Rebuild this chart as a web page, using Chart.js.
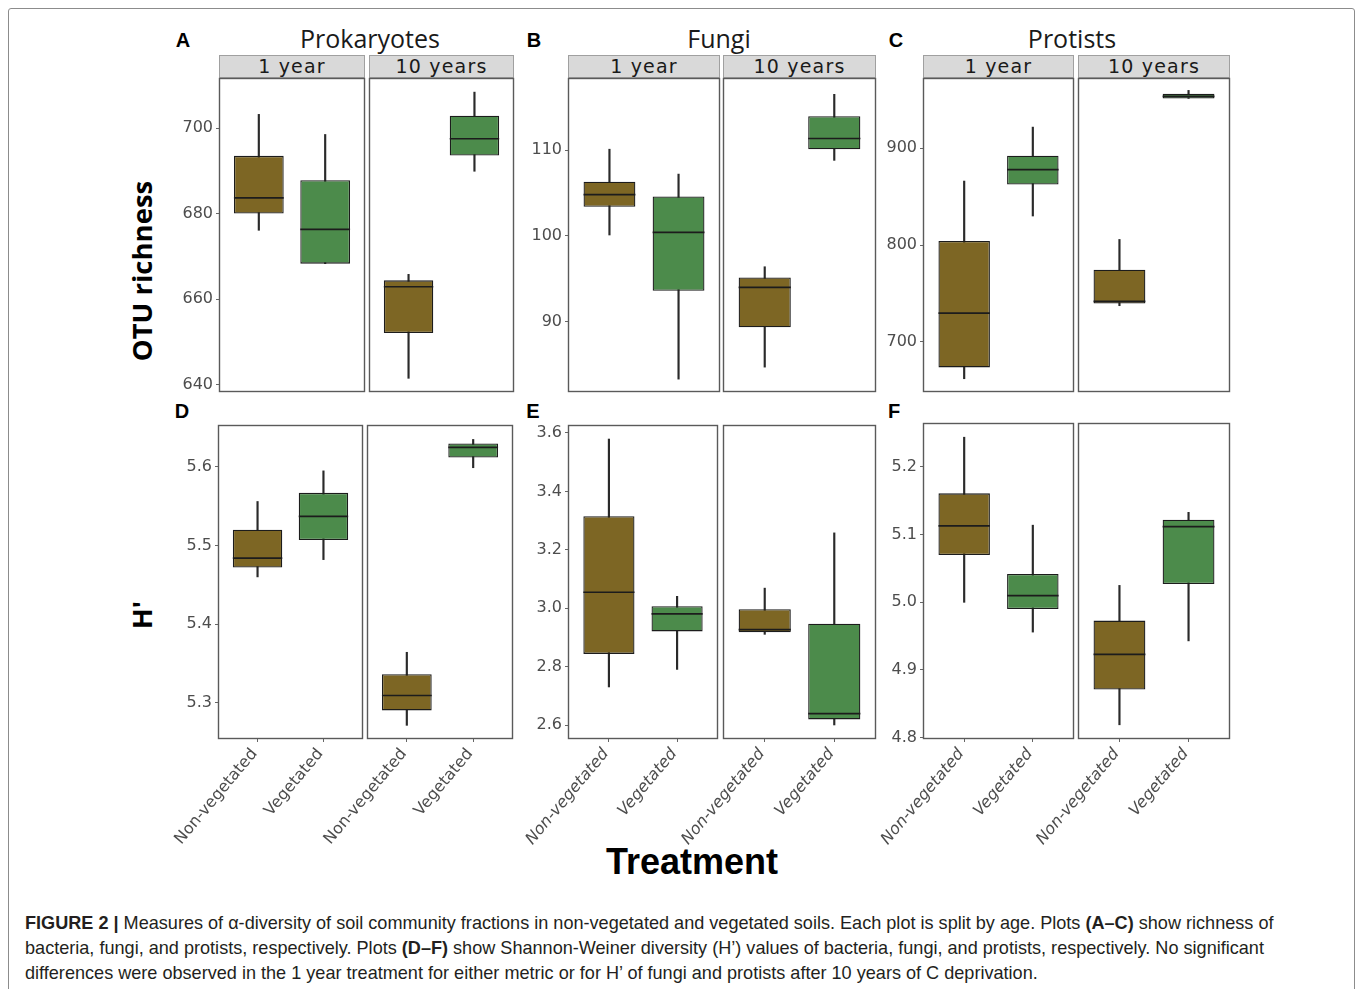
<!DOCTYPE html>
<html>
<head>
<meta charset="utf-8">
<script src="https://cdn.jsdelivr.net/npm/chart.js@4.4.1/dist/chart.umd.min.js"></script>
<style>
  html, body { margin: 0; padding: 0; background: #fff; }
  body { width: 1360px; height: 989px; position: relative; overflow: hidden; }
  .frame { position: absolute; left: 8px; top: 8px; width: 1347px; height: 1010px;
           border: 1px solid #8c8c8c; border-radius: 3px; box-sizing: border-box; }
  canvas { position: absolute; }
  .c { position: absolute; transform: translate(-50%, -50%); white-space: nowrap; }
  .title { font-family: "Open Sans", sans-serif; font-size: 25px; color: #1a1a1a; }
  .letter { font-family: "Liberation Sans", Arial, sans-serif; font-weight: bold; font-size: 20px; color: #000; }
  .strip { position: absolute; height: 23px; box-sizing: border-box; background: #d9d9d9;
           border: 1px solid #a0a0a0; font-family: "DejaVu Sans", sans-serif; font-size: 19px;
           letter-spacing: 1.2px; color: #1a1a1a; text-align: center; line-height: 21px; }
  .ylab { font-family: "Open Sans", sans-serif; font-weight: bold; font-size: 27.5px; color: #000;
          transform: translate(-50%, -50%) rotate(-90deg); }
  .xlab { font-family: "Liberation Sans", Arial, sans-serif; font-weight: bold; font-size: 36px; color: #000; }
  .cap { position: absolute; left: 25px; font-family: "Liberation Sans Narrow", "Liberation Sans", Arial, sans-serif;
         font-size: 18.1px; color: #231f20; white-space: nowrap; }
</style>
</head>
<body>
<div class="frame"></div>

<div class="c letter" style="left:183px;top:40px">A</div>
<div class="c letter" style="left:534px;top:40px">B</div>
<div class="c letter" style="left:896px;top:40px">C</div>
<div class="c letter" style="left:182px;top:411px">D</div>
<div class="c letter" style="left:533px;top:411px">E</div>
<div class="c letter" style="left:894px;top:411px">F</div>

<div class="c title" style="left:370px;top:38px">Prokaryotes</div>
<div class="c title" style="left:719px;top:38px">Fungi</div>
<div class="c title" style="left:1072px;top:38px">Protists</div>

<div class="c ylab" style="left:141px;top:271px">OTU richness</div>
<div class="c ylab" style="left:141px;top:615px">H'</div>
<div class="c xlab" style="left:692px;top:862px">Treatment</div>

<div class="cap" style="top:913px"><b>FIGURE 2 |</b> Measures of α-diversity of soil community fractions in non-vegetated and vegetated soils. Each plot is split by age. Plots <b>(A–C)</b> show richness of</div>
<div class="cap" style="top:938px">bacteria, fungi, and protists, respectively. Plots <b>(D–F)</b> show Shannon-Weiner diversity (H’) values of bacteria, fungi, and protists, respectively. No significant</div>
<div class="cap" style="top:963px">differences were observed in the 1 year treatment for either metric or for H’ of fungi and protists after 10 years of C deprivation.</div>

<script>
// Treatments on the x axis and the two soil ages used as facets
const treatments = ['Non-vegetated', 'Vegetated'];
const ages = ['1 year', '10 years'];

// Five-number summaries per treatment: [min, Q1, median, Q3, max]
// OTU richness
const prokOtu1y  = [[676.1, 680.0, 683.7, 693.5, 703.2], [668.3, 668.3, 676.3, 687.8, 698.5]];
const prokOtu10y = [[641.5, 652.1, 662.9, 664.4, 665.8], [689.9, 693.6, 697.5, 702.9, 708.4]];
const fungOtu1y  = [[100.1, 103.4, 104.8, 106.3, 110.1], [83.3, 93.6, 100.4, 104.6, 107.2]];
const fungOtu10y = [[84.7, 89.35, 94.0, 95.15, 96.4], [108.8, 110.1, 111.35, 113.95, 116.5]];
const protOtu1y  = [[662.0, 673.7, 729.8, 804.2, 866.1], [830.0, 862.6, 877.8, 892.2, 921.8]];
const protOtu10y = [[737.4, 739.7, 741.8, 774.5, 805.8], [951.4, 951.4, 953.5, 956.3, 959.7]];
// Shannon-Weiner diversity H'
const prokH1y  = [[5.460, 5.472, 5.484, 5.520, 5.556], [5.482, 5.507, 5.537, 5.567, 5.595]];
const prokH10y = [[5.271, 5.290, 5.309, 5.336, 5.364], [5.599, 5.612, 5.625, 5.630, 5.635]];
const fungH1y  = [[2.731, 2.844, 3.055, 3.315, 3.579], [2.791, 2.921, 2.981, 3.007, 3.041]];
const fungH10y = [[2.911, 2.918, 2.927, 2.997, 3.069], [2.601, 2.620, 2.640, 2.947, 3.258]];
const protH1y  = [[5.000, 5.070, 5.113, 5.161, 5.244], [4.956, 4.990, 5.010, 5.042, 5.114]];
const protH10y = [[4.819, 4.871, 4.923, 4.973, 5.025], [4.943, 5.027, 5.112, 5.122, 5.133]];

// Y tick labels per panel
const prokOtuTicks = [640, 660, 680, 700];
const fungOtuTicks = [90, 100, 110];
const protOtuTicks = [700, 800, 900];
const prokHTicks = [5.3, 5.4, 5.5, 5.6];
const fungHTicks = [2.6, 2.8, 3.0, 3.2, 3.4, 3.6];
const protHTicks = [4.8, 4.9, 5.0, 5.1, 5.2];

const BROWN = '#7d6624';
const GREEN = '#4c8b4b';

// Panel layout: facet rectangles [left, top, width, height], y range, decimals
const panels = [
  { facets: [prokOtu1y, prokOtu10y], ticks: prokOtuTicks, dec: 0, yMin: 638.3, yMax: 711.7,
    rects: [[219, 78, 146, 314], [369, 78, 145, 314]], strip: true, bottom: false },
  { facets: [fungOtu1y, fungOtu10y], ticks: fungOtuTicks, dec: 0, yMin: 81.8, yMax: 118.4,
    rects: [[568, 78, 152, 314], [723, 78, 153, 314]], strip: true, bottom: false },
  { facets: [protOtu1y, protOtu10y], ticks: protOtuTicks, dec: 0, yMin: 648.3, yMax: 972.5,
    rects: [[923, 78, 151, 314], [1078, 78, 152, 314]], strip: true, bottom: false },
  { facets: [prokH1y, prokH10y], ticks: prokHTicks, dec: 1, yMin: 5.2536, yMax: 5.6534,
    rects: [[218, 425, 145, 314], [367, 425, 146, 314]], strip: false, bottom: true, italic: false },
  { facets: [fungH1y, fungH10y], ticks: fungHTicks, dec: 1, yMin: 2.553, yMax: 3.627,
    rects: [[568, 425, 150, 314], [723, 425, 153, 314]], strip: false, bottom: true, italic: true },
  { facets: [protH1y, protH10y], ticks: protHTicks, dec: 1, yMin: 4.798, yMax: 5.265,
    rects: [[923, 423, 151, 316], [1078, 423, 152, 316]], strip: false, bottom: true, italic: true }
];

// Draws the median line inside each box and the frame around the facet
const boxFramePlugin = {
  id: 'boxFrame',
  afterDatasetsDraw(chart) {
    const ctx = chart.ctx;
    const meta = chart.getDatasetMeta(0);
    const medians = chart.data.datasets[0].medians;
    const yScale = chart.scales.y;
    ctx.save();
    ctx.strokeStyle = '#1c1c1c';
    ctx.lineWidth = 1.7;
    meta.data.forEach((bar, i) => {
      const py = yScale.getPixelForValue(medians[i]);
      ctx.beginPath();
      ctx.moveTo(bar.x - bar.width / 2, py);
      ctx.lineTo(bar.x + bar.width / 2, py);
      ctx.stroke();
    });
    const a = chart.chartArea;
    ctx.strokeStyle = '#5a5a5a';
    ctx.lineWidth = 1.4;
    ctx.strokeRect(a.left + 0.5, a.top + 0.5, a.right - a.left - 1, a.bottom - a.top - 1);
    ctx.restore();
  }
};

const PAD_L = 120, PAD_T = 10, PAD_R = 12, PAD_B = 10;
const Y_AXIS_W = 60, X_AXIS_H = 140;

function drawFacet(panel, fi) {
  const stats = panel.facets[fi];
  const [fx, fy, fw, fh] = panel.rects[fi];
  const showY = fi === 0;
  const showX = panel.bottom;

  if (panel.strip) {
    const s = document.createElement('div');
    s.className = 'strip';
    s.style.left = fx + 'px';
    s.style.top = '55px';
    s.style.width = fw + 'px';
    s.textContent = ages[fi];
    document.body.appendChild(s);
  }

  const cv = document.createElement('canvas');
  cv.width = PAD_L + fw + PAD_R;
  cv.height = PAD_T + fh + (showX ? X_AXIS_H : 0) + PAD_B;
  cv.style.left = (fx - PAD_L) + 'px';
  cv.style.top = (fy - PAD_T) + 'px';
  document.body.appendChild(cv);

  new Chart(cv, {
    type: 'bar',
    data: {
      datasets: [
        {
          label: 'box',
          data: stats.map((s, i) => ({ x: i + 1, y: [s[1], s[3]] })),
          medians: stats.map(s => s[2]),
          backgroundColor: [BROWN, GREEN],
          borderColor: '#1c1c1c',
          borderWidth: 1.3,
          borderSkipped: false,
          grouped: false,
          categoryPercentage: 1,
          barPercentage: 0.75,
          order: 0
        },
        {
          label: 'whisker',
          data: stats.map((s, i) => ({ x: i + 1, y: [s[0], s[4]] })),
          backgroundColor: '#2a2a2a',
          borderWidth: 0,
          barThickness: 1.5,
          grouped: false,
          order: 1
        }
      ]
    },
    options: {
      responsive: false,
      animation: false,
      devicePixelRatio: 1,
      events: [],
      layout: { padding: { left: PAD_L - (showY ? Y_AXIS_W : 0), top: PAD_T, right: PAD_R, bottom: PAD_B } },
      plugins: { legend: { display: false }, tooltip: { enabled: false } },
      scales: {
        x: {
          type: 'linear',
          min: 0.4,
          max: 2.6,
          offset: false,
          display: showX,
          grid: { offset: false, drawOnChartArea: false, drawTicks: true, tickLength: 3, color: '#666', lineWidth: 1 },
          border: { display: false },
          afterBuildTicks: s => { s.ticks = treatments.map((t, i) => ({ value: i + 1 })); },
          afterFit: s => { if (showX) s.height = X_AXIS_H; s.paddingLeft = 0; s.paddingRight = 0; },
          ticks: {
            autoSkip: false,
            minRotation: 50,
            maxRotation: 50,
            padding: 3,
            labelOffset: -3,
            color: '#4d4d4d',
            font: { family: 'DejaVu Sans', size: 16, style: panel.italic ? 'italic' : 'normal' },
            callback: v => treatments[Math.round(v) - 1]
          }
        },
        y: {
          type: 'linear',
          min: panel.yMin,
          max: panel.yMax,
          beginAtZero: false,
          display: showY,
          grid: { drawOnChartArea: false, drawTicks: true, tickLength: 3, color: '#666', lineWidth: 1 },
          border: { display: false },
          afterBuildTicks: s => { s.ticks = panel.ticks.map(v => ({ value: v })); },
          afterFit: s => { if (showY) s.width = Y_AXIS_W; s.paddingTop = 0; s.paddingBottom = 0; },
          ticks: {
            autoSkip: false,
            padding: 3,
            color: '#4d4d4d',
            font: { family: 'DejaVu Sans', size: 16 },
            callback: v => Number(v).toFixed(panel.dec)
          }
        }
      }
    },
    plugins: [boxFramePlugin]
  });
}

panels.forEach(p => { drawFacet(p, 0); drawFacet(p, 1); });
</script>
</body>
</html>
